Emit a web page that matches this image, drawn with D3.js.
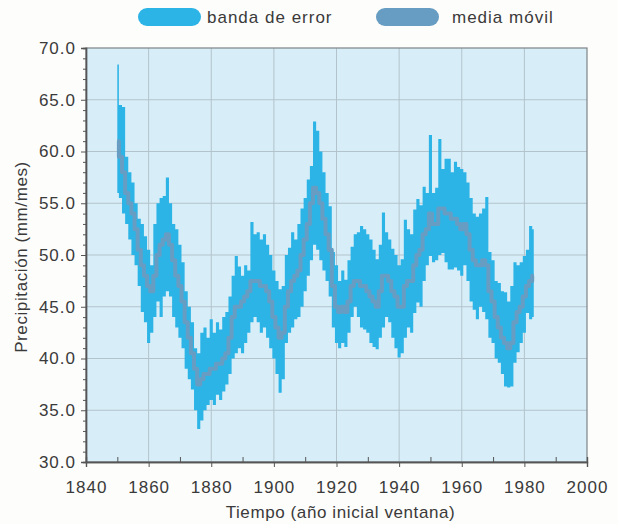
<!DOCTYPE html>
<html lang="es">
<head>
  <meta charset="UTF-8" />
  <title>Precipitación - media móvil</title>
  <style>
    body { margin: 0; padding: 0; background: #fdfdfb; font-family: "Liberation Sans", Arial, sans-serif; }
    svg { display: block; }
  </style>
</head>
<body>
  <svg id="chart"></svg>

  <script src="https://d3js.org/d3.v7.min.js"></script>
  <script>
    // years 1850..1983 (window start year)
    const years = d3.range(1850, 1984);

    const upper = [
      68.4, 64.5, 64.3, 59.5, 58.0, 57.0, 55.0, 53.5, 53.0, 51.8,
      50.5, 49.0, 53.0, 55.0, 55.5, 55.7, 57.5, 55.0, 53.0, 52.5,
      51.0, 49.3, 46.5, 45.0, 43.5, 41.0, 40.5, 42.5, 43.0, 42.0,
      43.8, 42.5, 43.5, 42.8, 44.0, 44.5, 46.0, 48.0, 49.9, 48.9,
      48.0, 49.0, 48.5, 53.2, 52.0, 52.2, 51.5, 52.0, 51.0, 50.0,
      48.5, 47.5, 46.7, 47.0, 50.0, 50.7, 52.2, 51.5, 53.0, 54.5,
      55.5, 57.3, 58.6, 62.9, 62.0, 60.0, 58.0, 56.0, 54.7, 50.3,
      49.0, 47.5, 48.5, 47.6, 49.5, 50.8, 52.0, 52.2, 52.8, 52.5,
      52.0, 51.5, 50.5, 49.6, 51.0, 54.1, 52.2, 51.5, 50.6, 50.0,
      49.0, 49.6, 53.4, 52.5, 52.0, 54.4, 55.4, 54.8, 56.6, 56.0,
      61.6, 56.0, 56.5, 61.2, 58.3, 59.3, 59.3, 58.0, 59.0, 58.5,
      58.3, 58.0, 57.0, 55.5, 54.0, 53.7, 54.0, 54.5, 55.6, 50.3,
      49.5, 47.5, 47.3, 46.5, 46.4, 45.5, 47.0, 49.3, 49.0, 49.3,
      49.9, 50.5, 52.8, 52.5
    ];

    const lower = [
      56.0, 55.5, 54.0, 53.0, 51.5, 50.0, 49.0, 47.0, 44.5, 43.5,
      41.5, 42.5, 44.0, 45.5, 44.0, 46.0, 46.5, 46.0, 44.0, 43.0,
      42.0, 41.0, 39.0, 38.0, 37.0, 35.0, 33.2, 34.0, 35.0, 35.5,
      36.0, 35.5, 36.5, 36.0, 36.8, 37.5, 38.5, 40.0, 40.5, 41.0,
      40.5, 41.5, 42.5, 43.5, 44.0, 43.5, 42.5, 43.0, 42.0, 41.0,
      40.0, 38.5, 36.7, 38.0, 41.5, 42.5, 43.0, 43.8, 44.0, 45.0,
      46.5, 48.0, 49.5, 51.0, 50.5, 49.5, 48.5, 47.5, 46.0, 43.0,
      41.5, 41.0, 41.5, 41.1, 42.5, 44.0, 45.0, 44.0, 43.0, 42.8,
      42.5, 41.5, 41.1, 40.9, 42.0, 43.0, 44.0, 43.5, 42.0, 41.0,
      40.1, 40.5, 42.0, 43.0, 42.5, 44.4, 45.4, 45.0, 47.5, 49.0,
      49.9, 49.3, 49.5, 50.0, 50.2, 49.3, 48.6, 48.6, 48.8, 48.5,
      48.0, 49.0, 47.5, 45.5, 44.7, 43.8, 45.0, 44.5, 43.8, 42.0,
      41.5, 40.0, 39.6, 38.5, 37.3, 37.2, 37.3, 39.6, 40.6, 41.5,
      42.5, 44.4, 43.8, 44.0
    ];

    const mean = [
      61.0, 59.5, 58.0, 56.0, 55.0, 54.0, 52.5, 50.5, 49.0, 48.0,
      47.0, 46.5, 48.0, 50.0, 51.0, 51.5, 52.0, 51.0, 49.5, 48.0,
      47.0, 45.5, 43.5, 42.0, 40.5, 39.0, 37.5, 38.0, 38.5, 38.5,
      39.0, 39.0, 39.5, 39.5, 40.0, 40.5, 42.0, 44.0, 45.0, 45.0,
      45.5, 46.0, 46.5, 47.5, 47.5, 47.5, 47.0, 47.0, 46.5, 45.5,
      44.0, 43.0, 42.0, 42.5, 45.0, 46.5, 47.5, 48.0, 48.5, 50.0,
      51.5, 53.0, 55.0, 56.5, 56.0, 55.0, 53.5, 52.0, 50.5, 47.0,
      45.0, 44.5, 45.0, 44.5, 45.5, 47.0, 47.5, 47.5, 47.0, 47.0,
      46.5, 46.0, 45.5, 45.0, 46.5, 48.0, 48.0, 47.5, 46.5, 46.0,
      45.0, 45.0, 47.0, 47.5, 47.5, 49.0, 50.0, 50.5, 52.0, 52.5,
      54.0, 53.0, 53.0, 54.5, 54.5, 54.0, 54.0, 53.5, 53.5, 53.0,
      52.5, 53.0, 52.0, 50.5, 49.5, 49.0, 49.0, 49.5, 49.0, 46.5,
      45.5, 44.0, 43.0, 42.0, 41.5, 41.0, 41.5, 43.5, 44.5, 45.0,
      46.0, 47.0, 47.5, 48.0
    ];

    const xTicks = [1840, 1860, 1880, 1900, 1920, 1940, 1960, 1980, 2000];
    const yTicks = [30, 35, 40, 45, 50, 55, 60, 65, 70];

    const data = years.map((y, i) => ({ year: y, hi: upper[i], lo: lower[i], m: mean[i] }));

    const width = 618, height = 524;
    const margin = { top: 48, right: 31, bottom: 62, left: 86 };
    const innerW = width - margin.left - margin.right;
    const innerH = height - margin.top - margin.bottom;

    const bandColor = "#2db4e6";
    const meanColor = "#679dc2";
    const textColor = "#3a3a3a";

    const svg = d3.select("#chart")
      .attr("width", width)
      .attr("height", height);

    const x = d3.scaleLinear().domain([1840, 2000]).range([0, innerW]);
    const y = d3.scaleLinear().domain([30, 70]).range([innerH, 0]);

    const g = svg.append("g").attr("transform", `translate(${margin.left},${margin.top})`);

    // plot background
    g.append("rect")
      .attr("width", innerW)
      .attr("height", innerH)
      .attr("fill", "#d7eef8");

    // grid
    g.append("g")
      .selectAll("line")
      .data(xTicks.slice(1, -1))
      .join("line")
      .attr("x1", d => x(d)).attr("x2", d => x(d))
      .attr("y1", 0).attr("y2", innerH)
      .attr("stroke", "#b3c3cb")
      .attr("stroke-width", 1);

    g.append("g")
      .selectAll("line")
      .data(yTicks.slice(1, -1))
      .join("line")
      .attr("x1", 0).attr("x2", innerW)
      .attr("y1", d => y(d)).attr("y2", d => y(d))
      .attr("stroke", "#b3c3cb")
      .attr("stroke-width", 1);

    // error band
    const area = d3.area()
      .curve(d3.curveStep)
      .x(d => x(d.year))
      .y0(d => y(d.lo))
      .y1(d => y(d.hi));

    g.append("path")
      .datum(data)
      .attr("fill", bandColor)
      .attr("d", area);

    // moving average
    const line = d3.line()
      .curve(d3.curveStep)
      .x(d => x(d.year))
      .y(d => y(d.m));

    g.append("path")
      .datum(data)
      .attr("fill", "none")
      .attr("stroke", meanColor)
      .attr("stroke-width", 4)
      .attr("stroke-linejoin", "round")
      .attr("d", line);

    // frame
    g.append("rect")
      .attr("width", innerW)
      .attr("height", innerH)
      .attr("fill", "none")
      .attr("stroke", "#7d8487")
      .attr("stroke-width", 1.2);

    // axes
    const xAxis = d3.axisBottom(x)
      .tickValues(xTicks)
      .tickFormat(d3.format("d"))
      .tickSize(5)
      .tickPadding(14);

    const xMinor = d3.axisBottom(x)
      .tickValues(d3.range(1850, 2000, 20))
      .tickFormat("")
      .tickSize(-5);

    const yAxis = d3.axisLeft(y)
      .tickValues(yTicks)
      .tickFormat(d3.format(".1f"))
      .tickSize(5)
      .tickPadding(5);

    const yMinor = d3.axisLeft(y)
      .tickValues(d3.range(30, 70, 1).filter(v => v % 5 !== 0))
      .tickFormat("")
      .tickSize(3);

    const styleAxis = sel => {
      sel.select(".domain").attr("stroke", "#555").attr("stroke-width", 1.4);
      sel.selectAll(".tick line").attr("stroke", "#555");
      sel.selectAll(".tick text")
        .attr("fill", textColor)
        .style("font-family", "'Liberation Sans', Arial, sans-serif")
        .style("font-size", "17px")
        .style("letter-spacing", "1px");
    };

    g.append("g").attr("transform", `translate(0,${innerH})`).call(xAxis).call(styleAxis);
    g.append("g").attr("transform", `translate(0,${innerH})`).call(xMinor).call(styleAxis);
    g.append("g").call(yAxis).call(styleAxis);
    g.append("g").call(yMinor).call(styleAxis);

    // axis titles
    svg.append("text")
      .attr("x", margin.left + innerW / 2 + 4)
      .attr("y", 518)
      .attr("text-anchor", "middle")
      .attr("fill", textColor)
      .style("font-size", "17px")
      .style("letter-spacing", "0.6px")
      .text("Tiempo (año inicial ventana)");

    svg.append("text")
      .attr("transform", `translate(27,${margin.top + innerH / 2 + 2}) rotate(-90)`)
      .attr("text-anchor", "middle")
      .attr("fill", textColor)
      .style("font-size", "17px")
      .style("letter-spacing", "0.6px")
      .text("Precipitación (mm/mes)");

    // legend
    const legendItems = [
      { label: "banda de error", color: bandColor, x: 138, tx: 207 },
      { label: "media móvil", color: meanColor, x: 376, tx: 452 }
    ];

    const legend = svg.append("g");
    legendItems.forEach(item => {
      legend.append("rect")
        .attr("x", item.x)
        .attr("y", 8)
        .attr("width", 63)
        .attr("height", 18)
        .attr("rx", 9)
        .attr("fill", item.color);
      legend.append("text")
        .attr("x", item.tx)
        .attr("y", 23)
        .attr("fill", textColor)
        .style("font-size", "17px")
        .style("letter-spacing", "1px")
        .text(item.label);
    });
  </script>
</body>
</html>
